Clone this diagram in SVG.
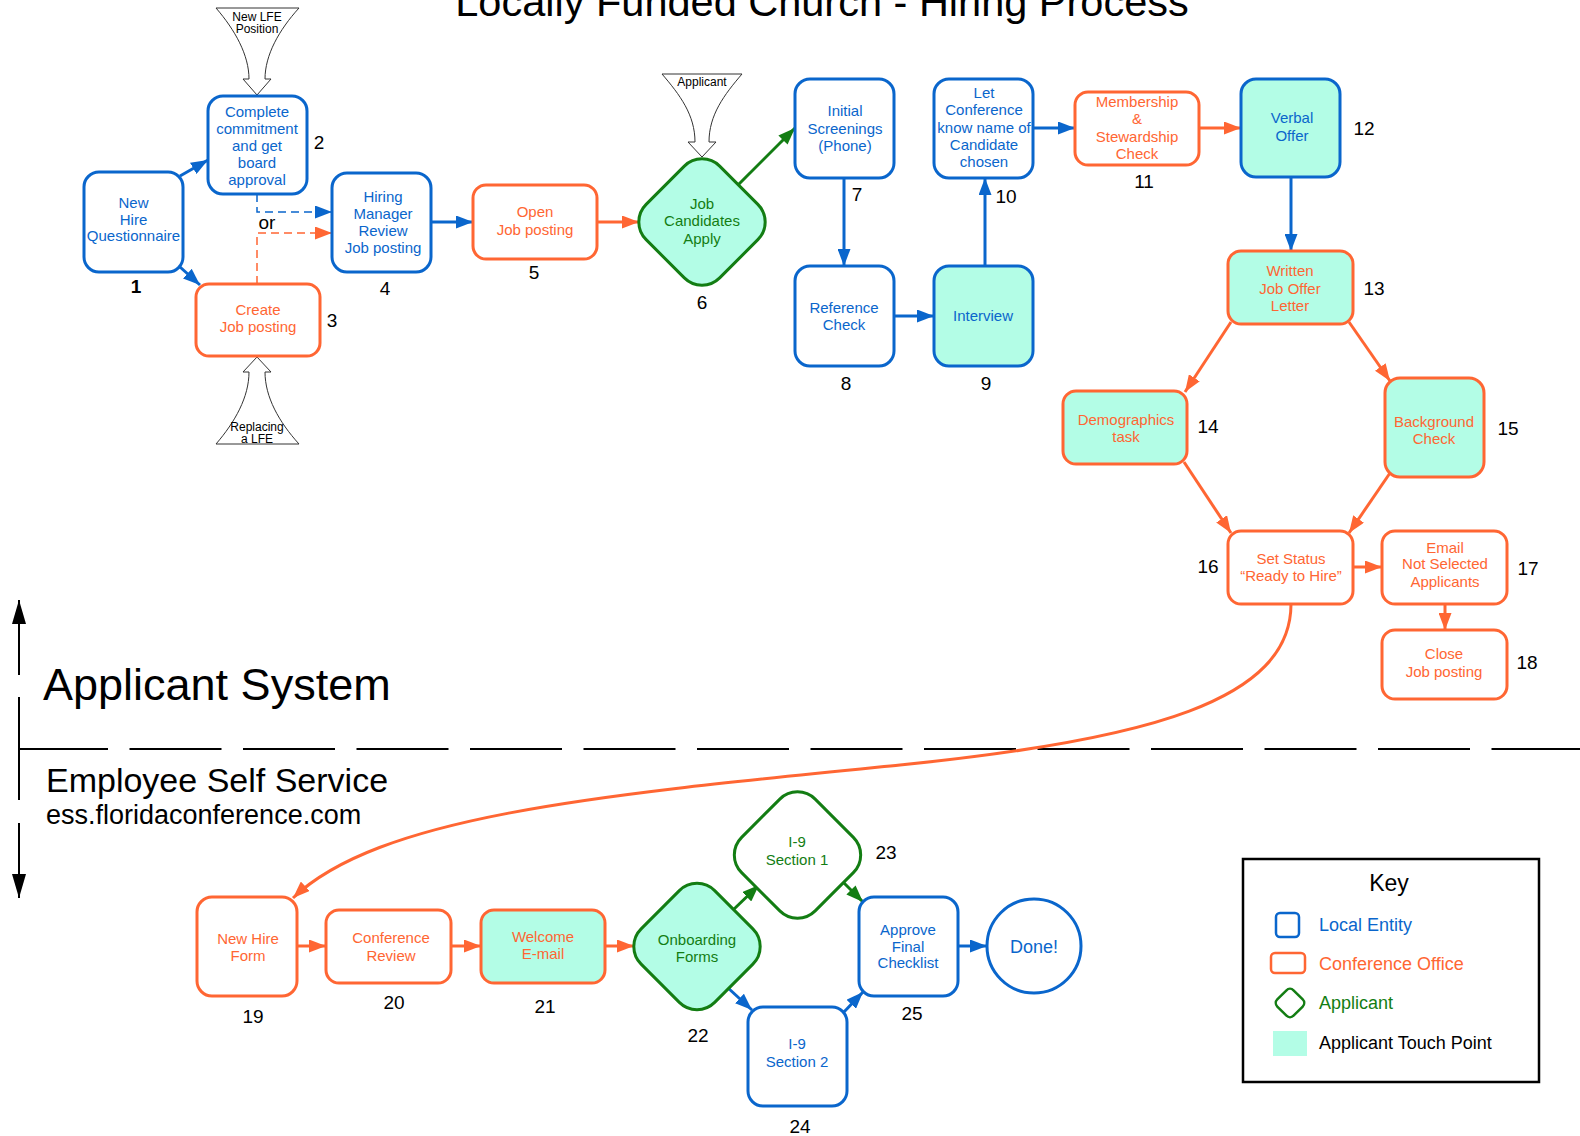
<svg xmlns="http://www.w3.org/2000/svg" width="1580" height="1136" viewBox="0 0 1580 1136">
  <defs>
    <style>
      text { font-family: "Liberation Sans", Arial, sans-serif; }
      .node { stroke-width: 3; fill: #ffffff; }
      .le { stroke: #0a66cc; }
      .co { stroke: #ff6633; }
      .ap { stroke: #137d13; }
      .tp { fill: #b3fde6; }
      .lbl { font-size: 15px; text-anchor: middle; }
      .tle { fill: #0a66cc; }
      .tco { fill: #ff6633; }
      .tap { fill: #137d13; }
      .num { font-size: 19px; fill: #000; text-anchor: middle; }
      .conn { fill: none; stroke-width: 3; }
      .cb { stroke: #0a66cc; marker-end: url(#arrB); }
      .cor { stroke: #ff6633; marker-end: url(#arrO); }
      .cg { stroke: #137d13; marker-end: url(#arrG); }
      .dash { fill: none; stroke-width: 1.5; stroke-dasharray: 8 5; }
      .callout { fill: #ffffff; stroke: #333333; stroke-width: 1; }
      .ctext { font-size: 12px; fill: #000; text-anchor: middle; }
      .key { font-size: 18px; }
    </style>
    <marker id="arrB" viewBox="0 0 17 13" refX="17" refY="6.5" markerWidth="17" markerHeight="13" markerUnits="userSpaceOnUse" orient="auto">
      <path d="M0,0 L17,6.5 L0,13 Z" fill="#0a66cc"/>
    </marker>
    <marker id="arrO" viewBox="0 0 17 13" refX="17" refY="6.5" markerWidth="17" markerHeight="13" markerUnits="userSpaceOnUse" orient="auto">
      <path d="M0,0 L17,6.5 L0,13 Z" fill="#ff6633"/>
    </marker>
    <marker id="arrG" viewBox="0 0 17 13" refX="17" refY="6.5" markerWidth="17" markerHeight="13" markerUnits="userSpaceOnUse" orient="auto">
      <path d="M0,0 L17,6.5 L0,13 Z" fill="#137d13"/>
    </marker>
    <marker id="arrK" viewBox="0 0 24 14" refX="24" refY="7" markerWidth="24" markerHeight="14" markerUnits="userSpaceOnUse" orient="auto">
      <path d="M0,0 L24,7 L0,14 Z" fill="#000"/>
    </marker>
  </defs>

  <rect width="1580" height="1136" fill="#ffffff"/>

  <!-- Title -->
  <text x="822" y="16" font-size="41.5" text-anchor="middle" fill="#000">Locally Funded Church - Hiring Process</text>

  <!-- Swimlane divider and side arrow -->
  <g id="lanes">
    <line x1="19" y1="749" x2="1580" y2="749" stroke="#000" stroke-width="2" stroke-dasharray="92 21.5" stroke-dashoffset="3"/>
    <line x1="19" y1="675" x2="19" y2="600" stroke="#000" stroke-width="2" marker-end="url(#arrK)"/>
    <line x1="19" y1="697" x2="19" y2="800" stroke="#000" stroke-width="2"/>
    <line x1="19" y1="823" x2="19" y2="898" stroke="#000" stroke-width="2" marker-end="url(#arrK)"/>
    <text x="43" y="700" font-size="45" fill="#000">Applicant System</text>
    <text x="46" y="792" font-size="34" fill="#000">Employee Self Service</text>
    <text x="46" y="824" font-size="27" fill="#000">ess.floridaconference.com</text>
  </g>

  <!-- Entry callouts -->
  <g id="callout-new-lfe">
    <path class="callout" d="M216,8 H299 C279,30 265,55 265,79 H271 L257,95 L243,79 H249 C249,55 235,30 216,8 Z"/>
    <text class="ctext" x="257" y="21">New LFE</text>
    <text class="ctext" x="257" y="33">Position</text>
  </g>
  <g id="callout-replacing">
    <path class="callout" d="M216,444 H299 C279,422 265,397 265,372 H271 L257,357 L243,372 H249 C249,397 235,422 216,444 Z"/>
    <text class="ctext" x="257" y="431">Replacing</text>
    <text class="ctext" x="257" y="443">a LFE</text>
  </g>
  <g id="callout-applicant">
    <path class="callout" d="M662,74 H742 C724,95 709,115 709,142 H716 L702,157 L688,142 H695 C695,115 680,95 662,74 Z"/>
    <text class="ctext" x="702" y="86">Applicant</text>
  </g>

  <!-- Connectors -->
  <g id="connectors">
    <line class="conn cb" x1="180" y1="176" x2="208" y2="160"/>
    <line class="conn cb" x1="180" y1="267" x2="200" y2="285"/>
    <path class="dash" stroke="#0a66cc" marker-end="url(#arrB)" d="M257,194 V212 H332"/>
    <path class="dash" stroke="#ff6633" marker-end="url(#arrO)" d="M257,284 V233 H332"/>
    <line class="conn cb" x1="431" y1="222" x2="473" y2="222"/>
    <line class="conn cor" x1="597" y1="222" x2="639" y2="222"/>
    <line class="conn cg" x1="737" y1="186" x2="795" y2="128"/>
    <line class="conn cb" x1="844" y1="178" x2="844" y2="266"/>
    <line class="conn cb" x1="894" y1="316" x2="934" y2="316"/>
    <line class="conn cb" x1="985" y1="266" x2="985" y2="178"/>
    <line class="conn cb" x1="1033" y1="128" x2="1075" y2="128"/>
    <line class="conn cor" x1="1199" y1="128" x2="1241" y2="128"/>
    <line class="conn cb" x1="1291" y1="177" x2="1291" y2="251"/>
    <line class="conn cor" x1="1231" y1="322" x2="1185" y2="392"/>
    <line class="conn cor" x1="1349" y1="322" x2="1390" y2="381"/>
    <line class="conn cor" x1="1184" y1="462" x2="1231" y2="533"/>
    <line class="conn cor" x1="1390" y1="473" x2="1349" y2="533"/>
    <line class="conn cor" x1="1353" y1="567" x2="1382" y2="567"/>
    <line class="conn cor" x1="1445" y1="604" x2="1445" y2="630"/>
    <path class="conn cor" stroke-width="2.5" d="M1291,604 C1291,700 1150,740 900,765 C600,795 380,815 293,898"/>
    <line class="conn cor" x1="297" y1="946" x2="326" y2="946"/>
    <line class="conn cor" x1="451" y1="946" x2="481" y2="946"/>
    <line class="conn cor" x1="605" y1="946" x2="634" y2="946"/>
    <line class="conn cg" x1="733" y1="910" x2="759" y2="885"/>
    <line class="conn cb" x1="727" y1="987" x2="752" y2="1010"/>
    <line class="conn cg" x1="843" y1="882" x2="863" y2="902"/>
    <line class="conn cb" x1="843" y1="1013" x2="863" y2="992"/>
    <line class="conn cb" x1="958" y1="946" x2="987" y2="946"/>
    <text x="267" y="229" font-size="19" text-anchor="middle" fill="#000">or</text>
  </g>

  <!-- Nodes -->
  <g id="n1">
    <rect class="node le" x="84" y="172" width="99" height="100" rx="15"/>
    <text class="lbl tle" x="133.5" y="208">New</text>
    <text class="lbl tle" x="133.5" y="225">Hire</text>
    <text class="lbl tle" x="133.5" y="241">Questionnaire</text>
    <text class="num" x="136" y="293" font-weight="bold">1</text>
  </g>
  <g id="n2">
    <rect class="node le" x="208" y="96" width="99" height="98" rx="15"/>
    <text class="lbl tle" x="257" y="117">Complete</text>
    <text class="lbl tle" x="257" y="134">commitment</text>
    <text class="lbl tle" x="257" y="151">and get</text>
    <text class="lbl tle" x="257" y="168">board</text>
    <text class="lbl tle" x="257" y="185">approval</text>
    <text class="num" x="319" y="149">2</text>
  </g>
  <g id="n3">
    <rect class="node co" x="196" y="284" width="124" height="72" rx="13"/>
    <text class="lbl tco" x="258" y="315">Create</text>
    <text class="lbl tco" x="258" y="332">Job posting</text>
    <text class="num" x="332" y="327">3</text>
  </g>
  <g id="n4">
    <rect class="node le" x="332" y="173" width="99" height="99" rx="15"/>
    <text class="lbl tle" x="383" y="202">Hiring</text>
    <text class="lbl tle" x="383" y="219">Manager</text>
    <text class="lbl tle" x="383" y="236">Review</text>
    <text class="lbl tle" x="383" y="253">Job posting</text>
    <text class="num" x="385" y="295">4</text>
  </g>
  <g id="n5">
    <rect class="node co" x="473" y="185" width="124" height="74" rx="13"/>
    <text class="lbl tco" x="535" y="217">Open</text>
    <text class="lbl tco" x="535" y="235">Job posting</text>
    <text class="num" x="534" y="279">5</text>
  </g>
  <g id="n6">
    <rect class="node ap tp" x="650" y="170" width="104" height="104" rx="25" transform="rotate(45 702 222)"/>
    <text class="lbl tap" x="702" y="209">Job</text>
    <text class="lbl tap" x="702" y="226">Candidates</text>
    <text class="lbl tap" x="702" y="244">Apply</text>
    <text class="num" x="702" y="309">6</text>
  </g>
  <g id="n7">
    <rect class="node le" x="795" y="79" width="99" height="99" rx="15"/>
    <text class="lbl tle" x="845" y="116">Initial</text>
    <text class="lbl tle" x="845" y="134">Screenings</text>
    <text class="lbl tle" x="845" y="151">(Phone)</text>
    <text class="num" x="857" y="201">7</text>
  </g>
  <g id="n8">
    <rect class="node le" x="795" y="266" width="99" height="100" rx="15"/>
    <text class="lbl tle" x="844" y="313">Reference</text>
    <text class="lbl tle" x="844" y="330">Check</text>
    <text class="num" x="846" y="390">8</text>
  </g>
  <g id="n9">
    <rect class="node le tp" x="934" y="266" width="99" height="100" rx="15"/>
    <text class="lbl tle" x="983" y="321">Interview</text>
    <text class="num" x="986" y="390">9</text>
  </g>
  <g id="n10">
    <rect class="node le" x="934" y="79" width="99" height="99" rx="15"/>
    <text class="lbl tle" x="984" y="98">Let</text>
    <text class="lbl tle" x="984" y="115">Conference</text>
    <text class="lbl tle" x="984" y="133">know name of</text>
    <text class="lbl tle" x="984" y="150">Candidate</text>
    <text class="lbl tle" x="984" y="167">chosen</text>
    <text class="num" x="1006" y="203">10</text>
  </g>
  <g id="n11">
    <rect class="node co" x="1075" y="92" width="124" height="73" rx="13"/>
    <text class="lbl tco" x="1137" y="107">Membership</text>
    <text class="lbl tco" x="1137" y="124">&amp;</text>
    <text class="lbl tco" x="1137" y="142">Stewardship</text>
    <text class="lbl tco" x="1137" y="159">Check</text>
    <text class="num" x="1144" y="188">11</text>
  </g>
  <g id="n12">
    <rect class="node le tp" x="1241" y="79" width="99" height="98" rx="15"/>
    <text class="lbl tle" x="1292" y="123">Verbal</text>
    <text class="lbl tle" x="1292" y="141">Offer</text>
    <text class="num" x="1364" y="135">12</text>
  </g>
  <g id="n13">
    <rect class="node co tp" x="1228" y="251" width="125" height="73" rx="13"/>
    <text class="lbl tco" x="1290" y="276">Written</text>
    <text class="lbl tco" x="1290" y="294">Job Offer</text>
    <text class="lbl tco" x="1290" y="311">Letter</text>
    <text class="num" x="1374" y="295">13</text>
  </g>
  <g id="n14">
    <rect class="node co tp" x="1063" y="391" width="124" height="73" rx="13"/>
    <text class="lbl tco" x="1126" y="425">Demographics</text>
    <text class="lbl tco" x="1126" y="442">task</text>
    <text class="num" x="1208" y="433">14</text>
  </g>
  <g id="n15">
    <rect class="node co tp" x="1385" y="378" width="99" height="99" rx="15"/>
    <text class="lbl tco" x="1434" y="427">Background</text>
    <text class="lbl tco" x="1434" y="444">Check</text>
    <text class="num" x="1508" y="435">15</text>
  </g>
  <g id="n16">
    <rect class="node co" x="1228" y="531" width="125" height="73" rx="13"/>
    <text class="lbl tco" x="1291" y="564">Set Status</text>
    <text class="lbl tco" x="1291" y="581">“Ready to Hire”</text>
    <text class="num" x="1208" y="573">16</text>
  </g>
  <g id="n17">
    <rect class="node co" x="1382" y="531" width="125" height="73" rx="13"/>
    <text class="lbl tco" x="1445" y="553">Email</text>
    <text class="lbl tco" x="1445" y="569">Not Selected</text>
    <text class="lbl tco" x="1445" y="587">Applicants</text>
    <text class="num" x="1528" y="575">17</text>
  </g>
  <g id="n18">
    <rect class="node co" x="1382" y="630" width="125" height="69" rx="13"/>
    <text class="lbl tco" x="1444" y="659">Close</text>
    <text class="lbl tco" x="1444" y="677">Job posting</text>
    <text class="num" x="1527" y="669">18</text>
  </g>
  <g id="n19">
    <rect class="node co" x="197" y="897" width="100" height="99" rx="15"/>
    <text class="lbl tco" x="248" y="944">New Hire</text>
    <text class="lbl tco" x="248" y="961">Form</text>
    <text class="num" x="253" y="1023">19</text>
  </g>
  <g id="n20">
    <rect class="node co" x="326" y="910" width="125" height="73" rx="13"/>
    <text class="lbl tco" x="391" y="943">Conference</text>
    <text class="lbl tco" x="391" y="961">Review</text>
    <text class="num" x="394" y="1009">20</text>
  </g>
  <g id="n21">
    <rect class="node co tp" x="481" y="910" width="124" height="73" rx="13"/>
    <text class="lbl tco" x="543" y="942">Welcome</text>
    <text class="lbl tco" x="543" y="959">E-mail</text>
    <text class="num" x="545" y="1013">21</text>
  </g>
  <g id="n22">
    <rect class="node ap tp" x="645" y="894.5" width="104" height="104" rx="25" transform="rotate(45 697 946.5)"/>
    <text class="lbl tap" x="697" y="945">Onboarding</text>
    <text class="lbl tap" x="697" y="962">Forms</text>
    <text class="num" x="698" y="1042">22</text>
  </g>
  <g id="n23">
    <rect class="node ap" x="745.5" y="803" width="104" height="104" rx="25" transform="rotate(45 797.5 855)"/>
    <text class="lbl tap" x="797" y="847">I-9</text>
    <text class="lbl tap" x="797" y="865">Section 1</text>
    <text class="num" x="886" y="859">23</text>
  </g>
  <g id="n24">
    <rect class="node le" x="748" y="1007" width="99" height="99" rx="15"/>
    <text class="lbl tle" x="797" y="1049">I-9</text>
    <text class="lbl tle" x="797" y="1067">Section 2</text>
    <text class="num" x="800" y="1133">24</text>
  </g>
  <g id="n25">
    <rect class="node le" x="859" y="897" width="99" height="99" rx="15"/>
    <text class="lbl tle" x="908" y="935">Approve</text>
    <text class="lbl tle" x="908" y="952">Final</text>
    <text class="lbl tle" x="908" y="968">Checklist</text>
    <text class="num" x="912" y="1020">25</text>
  </g>
  <g id="done">
    <circle class="node le" cx="1034" cy="946" r="47"/>
    <text x="1034" y="953" font-size="18" text-anchor="middle" fill="#0a66cc">Done!</text>
  </g>

  <!-- Legend -->
  <g id="legend">
    <rect x="1243" y="859" width="296" height="223" fill="#ffffff" stroke="#000" stroke-width="2.5"/>
    <text x="1389" y="891" font-size="23" text-anchor="middle" fill="#000">Key</text>
    <rect class="le" x="1276" y="913" width="23" height="24" rx="4" fill="#ffffff" stroke-width="2.5"/>
    <text class="key" x="1319" y="931" fill="#0a66cc">Local Entity</text>
    <rect class="co" x="1271" y="953" width="34" height="20" rx="4" fill="#ffffff" stroke-width="2.5"/>
    <text class="key" x="1319" y="970" fill="#ff6633">Conference Office</text>
    <rect class="ap" x="1278.5" y="991.5" width="23" height="23" rx="5" fill="#ffffff" stroke-width="2.5" transform="rotate(45 1290 1003)"/>
    <text class="key" x="1319" y="1009" fill="#137d13">Applicant</text>
    <rect x="1273" y="1031" width="34" height="25" fill="#b3fde6"/>
    <text class="key" x="1319" y="1049" fill="#000">Applicant Touch Point</text>
  </g>
</svg>
